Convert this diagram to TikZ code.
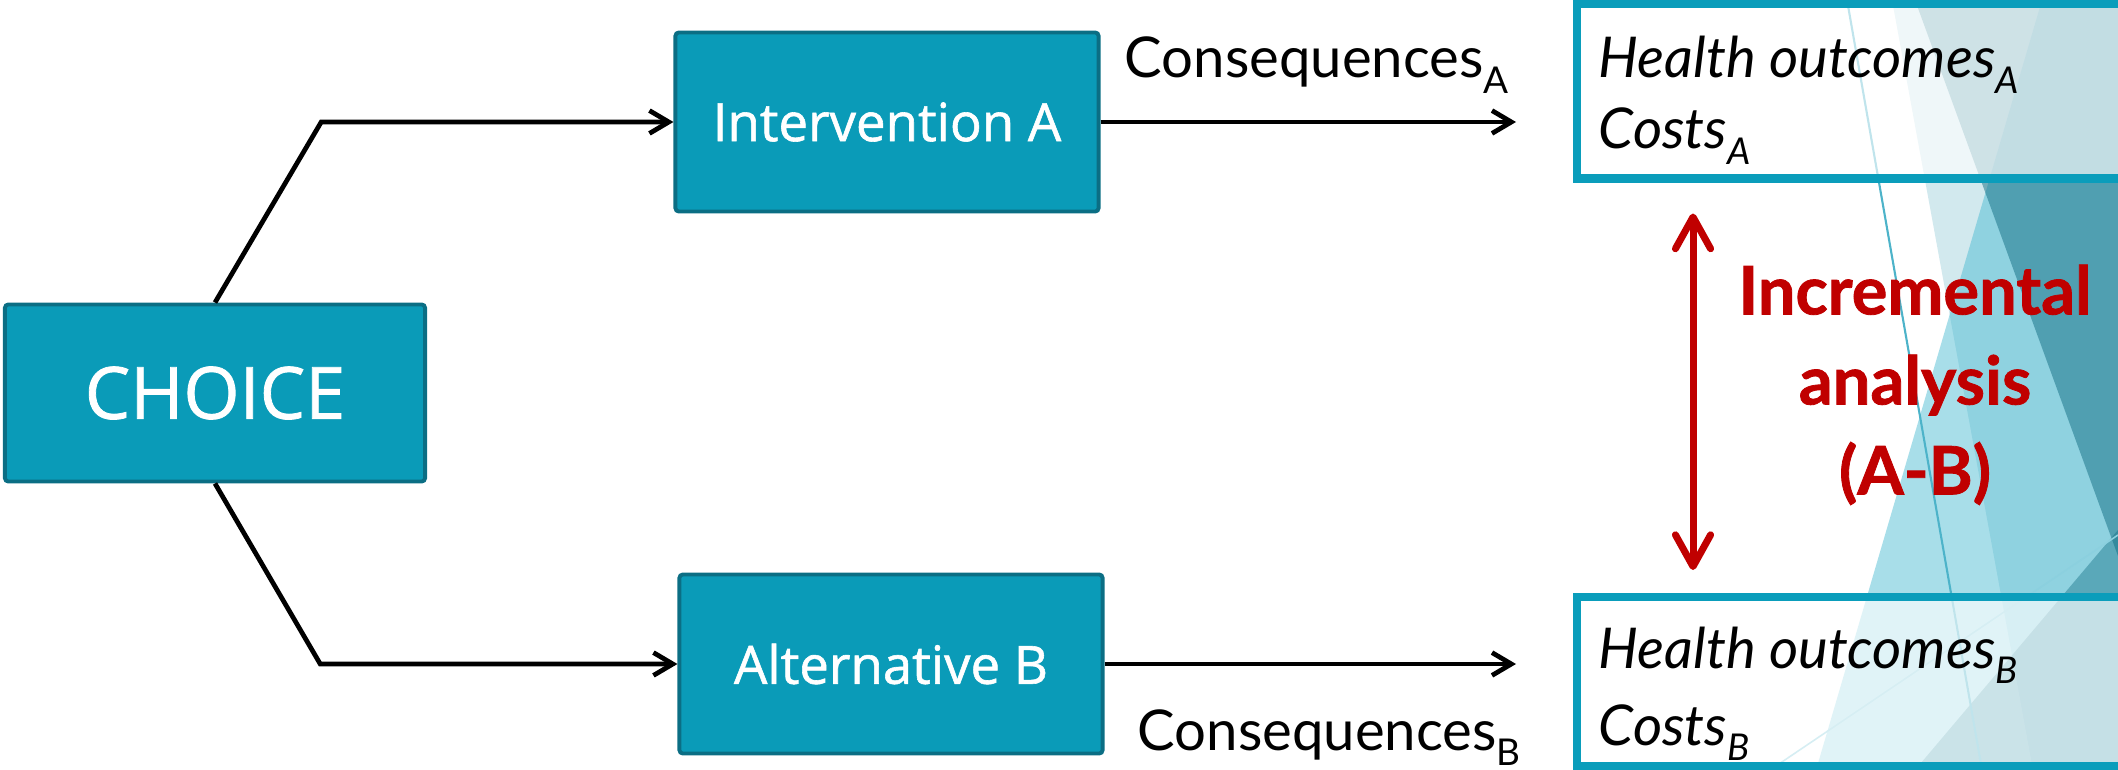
\documentclass[tikz,border=0pt]{standalone}
\usepackage{fontspec}
\setmainfont{Lato}
\newfontfamily\boxfont[FakeBold=1.1]{Open Sans}
\usetikzlibrary{arrows.meta, positioning, calc}
\definecolor{choiceteal}{HTML}{0A9BB8}
\definecolor{choiceedge}{HTML}{0B6E84}
\definecolor{resultedge}{HTML}{0A9DBB}
\definecolor{incred}{HTML}{C00000}
\definecolor{facetlight}{HTML}{1F8FA8}
\definecolor{facetmid}{HTML}{3FB6CF}
\definecolor{facetdark}{HTML}{126E84}
\definecolor{facetdeep}{HTML}{0A6A80}
\definecolor{facetline}{HTML}{4DB3C9}
\definecolor{facetpale}{HTML}{8BD0DF}
\newcommand{\lowsub}[1]{\raisebox{-4.3pt}{\fontsize{10.5}{10.5}\selectfont #1}}

\begin{document}
\begin{tikzpicture}[
    x=0.01cm, y=-0.01cm,
    optbox/.style={rectangle, draw=choiceedge, fill=choiceteal, line width=1.1pt, rounded corners=1pt,
                   text=white, font=\boxfont\fontsize{15}{18}\selectfont, inner sep=0pt},
    resbox/.style={rectangle, draw=resultedge, fill=white, fill opacity=0.65, line width=2.4pt,
                   inner sep=0pt, anchor=north west},
    restext/.style={anchor=base west, inner sep=0pt, font=\fontsize{16}{16}\selectfont\itshape},
    conslabel/.style={anchor=base west, inner sep=0pt, font=\fontsize{16}{16}\selectfont},
    inclabel/.style={anchor=north, inner sep=0pt, align=center, text=incred,
                     font=\fontsize{19}{25.6}\selectfont\bfseries\addfontfeature{FakeBold=1.2}},
    arrow/.style={-{Straight Barb[length=5.5pt, width=6.5pt]}, line width=1.35pt},
    incarrow/.style={{Straight Barb[length=9pt, width=10pt, round]}-{Straight Barb[length=9pt, width=10pt, round]},
                     line width=2pt, incred},
]
  \useasboundingbox (0,0) rectangle (2118,770);

  % Facet background on the right
  \begin{scope}
    \clip (0,0) rectangle (2118,770);
    \fill[facetlight, opacity=0.2] (1892,0) -- (2118,0) -- (2118,770) -- (2033,770) -- cycle;
    \fill[facetmid, opacity=0.45] (2042,0) -- (2118,0) -- (2118,770) -- (1816,770) -- cycle;
    \fill[facetdark, opacity=0.5] (1915,0) -- (2118,0) -- (2118,556) -- cycle;
    \fill[facetdeep, opacity=0.4] (2118,530) -- (2118,770) -- (1915,770) -- cycle;
    \draw[facetline, line width=0.6pt] (1847,0) -- (1982,770);
    \draw[facetpale, line width=0.45pt] (1770,770) -- (2118,535);
  \end{scope}

  % Options
  \node[optbox, minimum width=4.2cm, minimum height=1.77cm,
        font=\boxfont\fontsize{20.5}{24}\selectfont] (choice) at (215,393) {CHOICE};
  \node[optbox, minimum width=4.23cm, minimum height=1.79cm] (intA) at (887,122) {Intervention A};
  \node[optbox, minimum width=4.23cm, minimum height=1.79cm] (altB) at (891,664) {Alternative B};

  % Results
  \node[resbox, minimum width=5.45cm, minimum height=1.74cm] (resA) at (1573,0) {};
  \node[resbox, minimum width=5.45cm, minimum height=1.69cm] (resB) at (1573,593) {};

  % Branches
  \draw[arrow] (choice.north) -- ([xshift=-3.52cm]intA.west) -- (intA.west);
  \draw[arrow] (choice.south) -- ([xshift=-3.57cm]altB.west) -- (altB.west);
  \draw[arrow] (intA.east) -- ($(intA.east -| resA.west)+(-57,0)$);
  \draw[arrow] (altB.east) -- ($(altB.east -| resB.west)+(-57,0)$);

  \node[conslabel] (consA) at (1124,78) {Consequences\lowsub{A}};
  \node[conslabel] (consB) at (1137,750) {Consequences\lowsub{B}};

  \node[restext] (outA) at (1598,78) {Health outcomes\lowsub{A}};
  \node[restext] (costA) at (1598,149) {Costs\lowsub{A}};
  \node[restext] (outB) at (1598,668) {Health outcomes\lowsub{B}};
  \node[restext] (costB) at (1598,745) {Costs\lowsub{B}};

  % Incremental analysis
  \coordinate (incTop) at ($(resA.south west)+(120,31)$);
  \coordinate (incBot) at ($(resB.north west)+(120,-23)$);
  \draw[incarrow] (incTop) -- (incBot);
  \node[inclabel] (inc) at (1915,264) {Incremental\\analysis\\(A-B)};
\end{tikzpicture}
\end{document}
